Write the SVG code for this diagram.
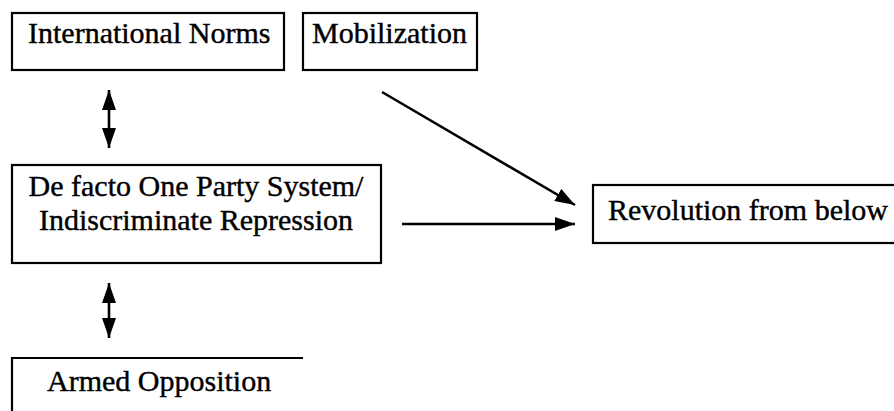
<svg xmlns="http://www.w3.org/2000/svg" width="894" height="411" viewBox="0 0 894 411">
  <style>
    .box { fill: #fff; stroke: #000; stroke-width: 2.2; }
    .label { font-family: "Liberation Serif", "Times New Roman", serif; font-size: 30px; fill: #000; stroke: #000; stroke-width: 0.4; }
    .link { stroke: #000; stroke-width: 2.6; fill: none; }
  </style>
  <defs>
    <marker id="head" viewBox="0 0 20 14" refX="20" refY="7" markerWidth="20" markerHeight="14" markerUnits="userSpaceOnUse" orient="auto-start-reverse">
      <path d="M0,0 L20,7 L0,14 Z" fill="#000"/>
    </marker>
  </defs>
  <rect width="894" height="411" fill="#fff"/>

  <g id="node-international-norms">
    <rect class="box" x="12" y="13" width="272" height="57"/>
    <text class="label" x="28" y="43">International Norms</text>
  </g>
  <g id="node-mobilization">
    <rect class="box" x="303" y="13" width="174" height="57"/>
    <text class="label" x="312" y="43">Mobilization</text>
  </g>
  <g id="node-one-party">
    <rect class="box" x="12" y="165" width="369" height="98"/>
    <text class="label" x="196" y="196" text-anchor="middle">De facto One Party System/</text>
    <text class="label" x="196" y="230" text-anchor="middle">Indiscriminate Repression</text>
  </g>
  <g id="node-revolution">
    <rect class="box" x="593" y="185" width="330" height="58"/>
    <text class="label" x="608" y="220">Revolution from below</text>
  </g>
  <g id="node-armed-opposition">
    <path class="box" d="M12,430 V358 H303" fill="none"/>
    <text class="label" x="47" y="391">Armed Opposition</text>
  </g>

  <g id="connectors">
    <line class="link" x1="109" y1="90" x2="109" y2="148" marker-start="url(#head)" marker-end="url(#head)"/>
    <line class="link" x1="109" y1="283" x2="109" y2="338" marker-start="url(#head)" marker-end="url(#head)"/>
    <line class="link" x1="382" y1="92" x2="575" y2="205" marker-end="url(#head)"/>
    <line class="link" x1="402" y1="224" x2="575" y2="224" marker-end="url(#head)"/>
  </g>
</svg>
